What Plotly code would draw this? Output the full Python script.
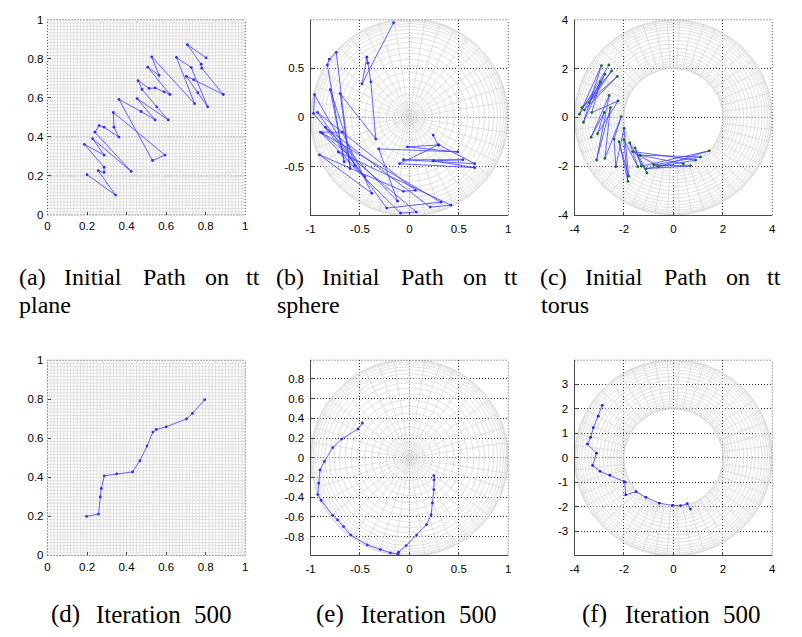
import numpy as np
import plotly.graph_objects as go

W, H = 802, 637

# ---------------- data ----------------
plane_init_x = [0.200, 0.344, 0.256, 0.286, 0.286, 0.186, 0.286, 0.228, 0.423, 0.240, 0.261,
                0.286, 0.361, 0.336, 0.333, 0.594, 0.531, 0.361, 0.473, 0.544, 0.453, 0.611,
                0.552, 0.478, 0.458, 0.514, 0.544, 0.589, 0.619, 0.507, 0.564, 0.527, 0.744,
                0.652, 0.727, 0.810, 0.760, 0.702, 0.739, 0.889, 0.780, 0.777, 0.707, 0.802]
plane_init_y = [0.206, 0.102, 0.227, 0.218, 0.245, 0.362, 0.307, 0.391, 0.223, 0.424, 0.458,
                0.450, 0.399, 0.450, 0.525, 0.307, 0.279, 0.592, 0.530, 0.487, 0.596, 0.487,
                0.554, 0.643, 0.688, 0.648, 0.651, 0.631, 0.617, 0.757, 0.715, 0.810, 0.570,
                0.807, 0.755, 0.554, 0.626, 0.710, 0.693, 0.617, 0.752, 0.772, 0.872, 0.805]

sphere_init_x = [-0.16, -0.48, -0.43, -0.42, -0.39, -0.34, -0.70, -0.60, -0.74, -0.81, -0.83,
                 -0.66, -0.80, -0.55, -0.96, -0.97, -0.45, -0.90, -0.68, -0.38, -0.91, -0.06,
                 0.06, -0.93, -0.23, 0.32, -0.88, 0.07, -0.09, -0.72, 0.42, 0.21, -0.85,
                 -0.12, -0.31, 0.49, -0.02, 0.30, 0.66, -0.06, 0.54, 0.24, 0.66, -0.10, 0.29, 0.24]
sphere_init_y = [0.96, 0.34, 0.61, 0.55, 0.36, -0.22, 0.24, -0.52, 0.66, 0.59, 0.53,
                 -0.45, 0.28, -0.49, 0.23, 0.04, -0.60, -0.15, -0.15, -0.77, -0.38, -0.75,
                 -0.74, 0.05, -0.92, -0.86, -0.16, -0.96, -0.97, -0.35, -0.89, -0.91, -0.10,
                 -0.85, -0.32, -0.35, -0.30, -0.28, -0.47, -0.43, -0.43, -0.44, -0.51, -0.47, -0.28, -0.18]

torus_init_x = [-2.61, -3.80, -2.91, -3.64, -2.77, -3.60, -2.27, -3.70, -2.50, -3.40, -2.95,
                -3.30, -2.24, -3.07, -2.80, -3.33, -2.60, -3.11, -2.55, -2.77, -2.11, -2.40,
                -2.33, -2.00, -1.81, -2.20, -1.84, -2.01, -1.44, -1.77, -1.07, -1.55, -1.30,
                1.45, -0.60, -1.65, 0.90, -1.10, 0.69, -0.80, 1.10, -1.35, 0.40]
torus_init_y = [2.15, 0.13, 2.12, -0.20, 1.77, 0.30, 1.68, 0.40, 1.90, 0.60, 1.45,
                0.20, 0.67, -0.67, 0.20, -0.81, 0.90, -1.75, 0.40, -1.68, 0.03, -0.89,
                -2.02, -0.45, -2.41, -1.00, -2.62, -0.91, -2.02, -1.05, -2.28, -1.25, -2.00,
                -1.37, -2.02, -1.40, -1.75, -2.10, -1.99, -1.95, -1.62, -1.55, -1.90]

plane_iter_x = [0.197, 0.258, 0.267, 0.272, 0.287, 0.350, 0.430, 0.467, 0.503, 0.533, 0.550,
                0.600, 0.703, 0.733, 0.795]
plane_iter_y = [0.200, 0.212, 0.300, 0.343, 0.408, 0.418, 0.428, 0.485, 0.560, 0.632, 0.645,
                0.659, 0.699, 0.728, 0.798]

sphere_iter_x = [-0.476, -0.520, -0.686, -0.776, -0.860, -0.903, -0.917, -0.927, -0.893, -0.776,
                 -0.726, -0.666, -0.593, -0.426, -0.293, -0.193, -0.116, -0.110, -0.033, 0.073,
                 0.173, 0.220, 0.233, 0.247, 0.250, 0.247]
sphere_iter_y = [0.353, 0.293, 0.190, 0.103, -0.037, -0.123, -0.257, -0.373, -0.430, -0.583,
                 -0.630, -0.697, -0.783, -0.883, -0.930, -0.963, -0.977, -0.957, -0.890, -0.783,
                 -0.677, -0.577, -0.457, -0.323, -0.223, -0.180]

torus_iter_x = [-2.88, -3.04, -3.24, -3.35, -3.48, -3.11, -3.27, -2.97, -2.57, -1.97, -1.93,
                -1.51, -1.11, -0.57, -0.04, 0.29, 0.56, 0.69]
torus_iter_y = [2.14, 1.70, 1.23, 0.83, 0.56, 0.19, -0.31, -0.55, -0.71, -0.98, -1.51,
                -1.38, -1.61, -1.85, -1.94, -1.95, -1.87, -2.09]

plane_ticks = [0, 0.2, 0.4, 0.6, 0.8, 1]
plane_ticktext = ["0", "0.2", "0.4", "0.6", "0.8", "1"]
sphere_xticks = [-1, -0.5, 0, 0.5, 1]
sphere_xticktext = ["-1", "-0.5", "0", "0.5", "1"]
sphere_init_yticks = [-0.5, 0, 0.5]
sphere_init_yticktext = ["-0.5", "0", "0.5"]
sphere_iter_yticks = [-0.8, -0.6, -0.4, -0.2, 0, 0.2, 0.4, 0.6, 0.8]
sphere_iter_yticktext = ["-0.8", "-0.6", "-0.4", "-0.2", "0", "0.2", "0.4", "0.6", "0.8"]
torus_ticks = [-4, -2, 0, 2, 4]
torus_ticktext = ["-4", "-2", "0", "2", "4"]
torus_iter_yticks = [-3, -2, -1, 0, 1, 2, 3]
torus_iter_yticktext = ["-3", "-2", "-1", "0", "1", "2", "3"]

caption_top_1 = ["Initial", "Path", "on", "tt"]
caption_labels_top = ["(a)", "(b)", "(c)"]
caption_second = ["plane", "sphere", "torus"]
caption_labels_bottom = ["(d)", "(e)", "(f)"]
caption_bottom_words = ["Iteration", "500"]

# ---------------- background wireframes ----------------
def plane_mesh(n=60):
    xs, ys = [], []
    for k in range(n + 1):
        v = k / n
        xs += [v, v, None]; ys += [0, 1, None]
        xs += [0, 1, None]; ys += [v, v, None]
    return xs, ys

def sphere_mesh(nm=40, nl=40):
    xs, ys = [], []
    t = np.linspace(0, 2 * np.pi, 181)
    for k in range(nm):
        a = 2 * np.pi * k / nm
        xs += [0, np.cos(a), None]; ys += [0, np.sin(a), None]
    for k in range(1, nl // 2 + 1):
        r = np.sin(np.pi * k / nl)
        xs += list(r * np.cos(t)) + [None]; ys += list(r * np.sin(t)) + [None]
    return xs, ys

def torus_mesh(nu=50, nv=40, R=3.0, r=1.0):
    xs, ys = [], []
    t = np.linspace(0, 2 * np.pi, 241)
    for k in range(nu):
        a = 2 * np.pi * k / nu
        xs += [(R - r) * np.cos(a), (R + r) * np.cos(a), None]
        ys += [(R - r) * np.sin(a), (R + r) * np.sin(a), None]
    for k in range(nv // 2 + 1):
        rad = R + r * np.cos(2 * np.pi * k / nv)
        xs += list(rad * np.cos(t)) + [None]; ys += list(rad * np.sin(t)) + [None]
    return xs, ys

MESH = dict(color="rgb(212,212,212)", width=0.7)
PATH = dict(color="rgb(60,60,255)", width=0.8)

fig = go.Figure()

panels = [
    (1, plane_mesh(), plane_init_x, plane_init_y, "rgb(45,45,255)"),
    (2, sphere_mesh(), sphere_init_x, sphere_init_y, "rgb(45,45,255)"),
    (3, torus_mesh(), torus_init_x, torus_init_y, "rgb(20,110,40)"),
    (4, plane_mesh(), plane_iter_x, plane_iter_y, "rgb(45,45,255)"),
    (5, sphere_mesh(), sphere_iter_x, sphere_iter_y, "rgb(45,45,255)"),
    (6, torus_mesh(), torus_iter_x, torus_iter_y, "rgb(30,30,230)"),
]
for n, (mx, my), px, py, mcol in panels:
    ax = "" if n == 1 else str(n)
    fig.add_trace(go.Scatter(x=mx, y=my, mode="lines", line=MESH, hoverinfo="skip",
                             xaxis="x" + ax, yaxis="y" + ax, showlegend=False))
    fig.add_trace(go.Scatter(x=px, y=py, mode="lines+markers", line=PATH,
                             marker=dict(size=2.8, color=mcol),
                             xaxis="x" + ax, yaxis="y" + ax, showlegend=False))

# ---------------- layout ----------------
col_px = [(43, 243), (309, 509), (576, 776)]
row_px = [(14, 213), (361, 560)]
TICKFONT = dict(family="Liberation Sans, Arial, sans-serif", size=11.5, color="black")
AXCOL = "rgb(70,70,70)"
DOT = "1px,2px"

specs = {
    1: ([0, 1], [0, 1], plane_ticks, plane_ticktext, plane_ticks, plane_ticktext, False),
    2: ([-1, 1], [-0.99, 0.99], sphere_xticks, sphere_xticktext, sphere_init_yticks, sphere_init_yticktext, True),
    3: ([-4, 4], [-4, 4], torus_ticks, torus_ticktext, torus_ticks, torus_ticktext, True),
    4: ([0, 1], [0, 1], plane_ticks, plane_ticktext, plane_ticks, plane_ticktext, False),
    5: ([-1, 1], [-0.99, 0.99], sphere_xticks, sphere_xticktext, sphere_iter_yticks, sphere_iter_yticktext, True),
    6: ([-4, 4], [-3.98, 3.98], torus_ticks, torus_ticktext, torus_iter_yticks, torus_iter_yticktext, True),
}

layout = dict(width=W, height=H, margin=dict(l=0, r=0, t=0, b=0),
              paper_bgcolor="white", plot_bgcolor="white", showlegend=False)
shapes = []
for n, (xr, yr, xt, xtt, yt, ytt, solid) in specs.items():
    r, c = (n - 1) // 3, (n - 1) % 3
    x0, x1 = col_px[c]
    y0, y1 = row_px[r]
    ax = "" if n == 1 else str(n)
    common = dict(showgrid=solid, gridcolor="rgb(40,40,40)", gridwidth=0.8, griddash=DOT,
                  zeroline=False, showline=solid, linecolor=AXCOL, linewidth=1,
                  ticks="inside", ticklen=3, tickcolor=AXCOL, tickfont=TICKFONT,
                  fixedrange=True)
    layout["xaxis" + ax] = dict(domain=[x0 / W, x1 / W], range=xr, tickmode="array",
                                tickvals=xt, ticktext=xtt, anchor="y" + ax,
                                ticklabelstandoff=3, **common)
    layout["yaxis" + ax] = dict(domain=[1 - y1 / H, 1 - y0 / H], range=yr, tickmode="array",
                                tickvals=yt, ticktext=ytt, anchor="x" + ax,
                                ticklabelstandoff=3, **common)
    xd, yd = "x" + ax + " domain", "y" + ax + " domain"
    border = dict(color="rgb(40,40,40)", width=0.8, dash=DOT)
    shapes.append(dict(type="line", xref=xd, yref=yd, x0=0, x1=1, y0=1, y1=1, line=border, layer="above"))
    shapes.append(dict(type="line", xref=xd, yref=yd, x0=1, x1=1, y0=0, y1=1, line=border, layer="above"))
    if not solid:
        shapes.append(dict(type="line", xref=xd, yref=yd, x0=0, x1=1, y0=0, y1=0, line=border, layer="above"))
        shapes.append(dict(type="line", xref=xd, yref=yd, x0=0, x1=0, y0=0, y1=1, line=border, layer="above"))
# dotted grid lines visible in panel (a)
for gy in (0.2, 0.4):
    shapes.append(dict(type="line", xref="x domain", yref="y", x0=0, x1=1, y0=gy, y1=gy,
                       line=dict(color="rgb(40,40,40)", width=0.8, dash=DOT), layer="below"))
layout["shapes"] = shapes

# ---------------- captions ----------------
CAPFONT = dict(family="Liberation Serif, Times New Roman, serif", size=24, color="black")
CAPFONT_B = dict(family="Liberation Serif, Times New Roman, serif", size=25, color="black")
ann = []
def add_word(text, cx, cy, font=CAPFONT):
    ann.append(dict(text=text, x=cx / W, y=1 - cy / H, xref="paper", yref="paper",
                    xanchor="center", yanchor="middle", showarrow=False, font=font,
                    borderpad=0))

group_starts = [12, 273, 539]
label_centre = 15.4
word_centres = [77, 149, 202, 239]
second_centres = [28, 34, 27]
for g, gx in enumerate(group_starts):
    add_word(caption_labels_top[g], gx + label_centre, 276)
    for w, wc in zip(caption_top_1, word_centres):
        add_word(w, gx + wc, 276)
    add_word(caption_second[g], gx + second_centres[g], 305)

bottom_starts = [42, 310, 577]
for g, gx in enumerate(bottom_starts):
    add_word(caption_labels_bottom[g], gx + 19, 620, CAPFONT_B)
    add_word(caption_bottom_words[0], gx + 93.5, 620, CAPFONT_B)
    add_word(caption_bottom_words[1], gx + 168, 620, CAPFONT_B)
layout["annotations"] = ann

fig.update_layout(**layout)
fig.write_html("out.html")
